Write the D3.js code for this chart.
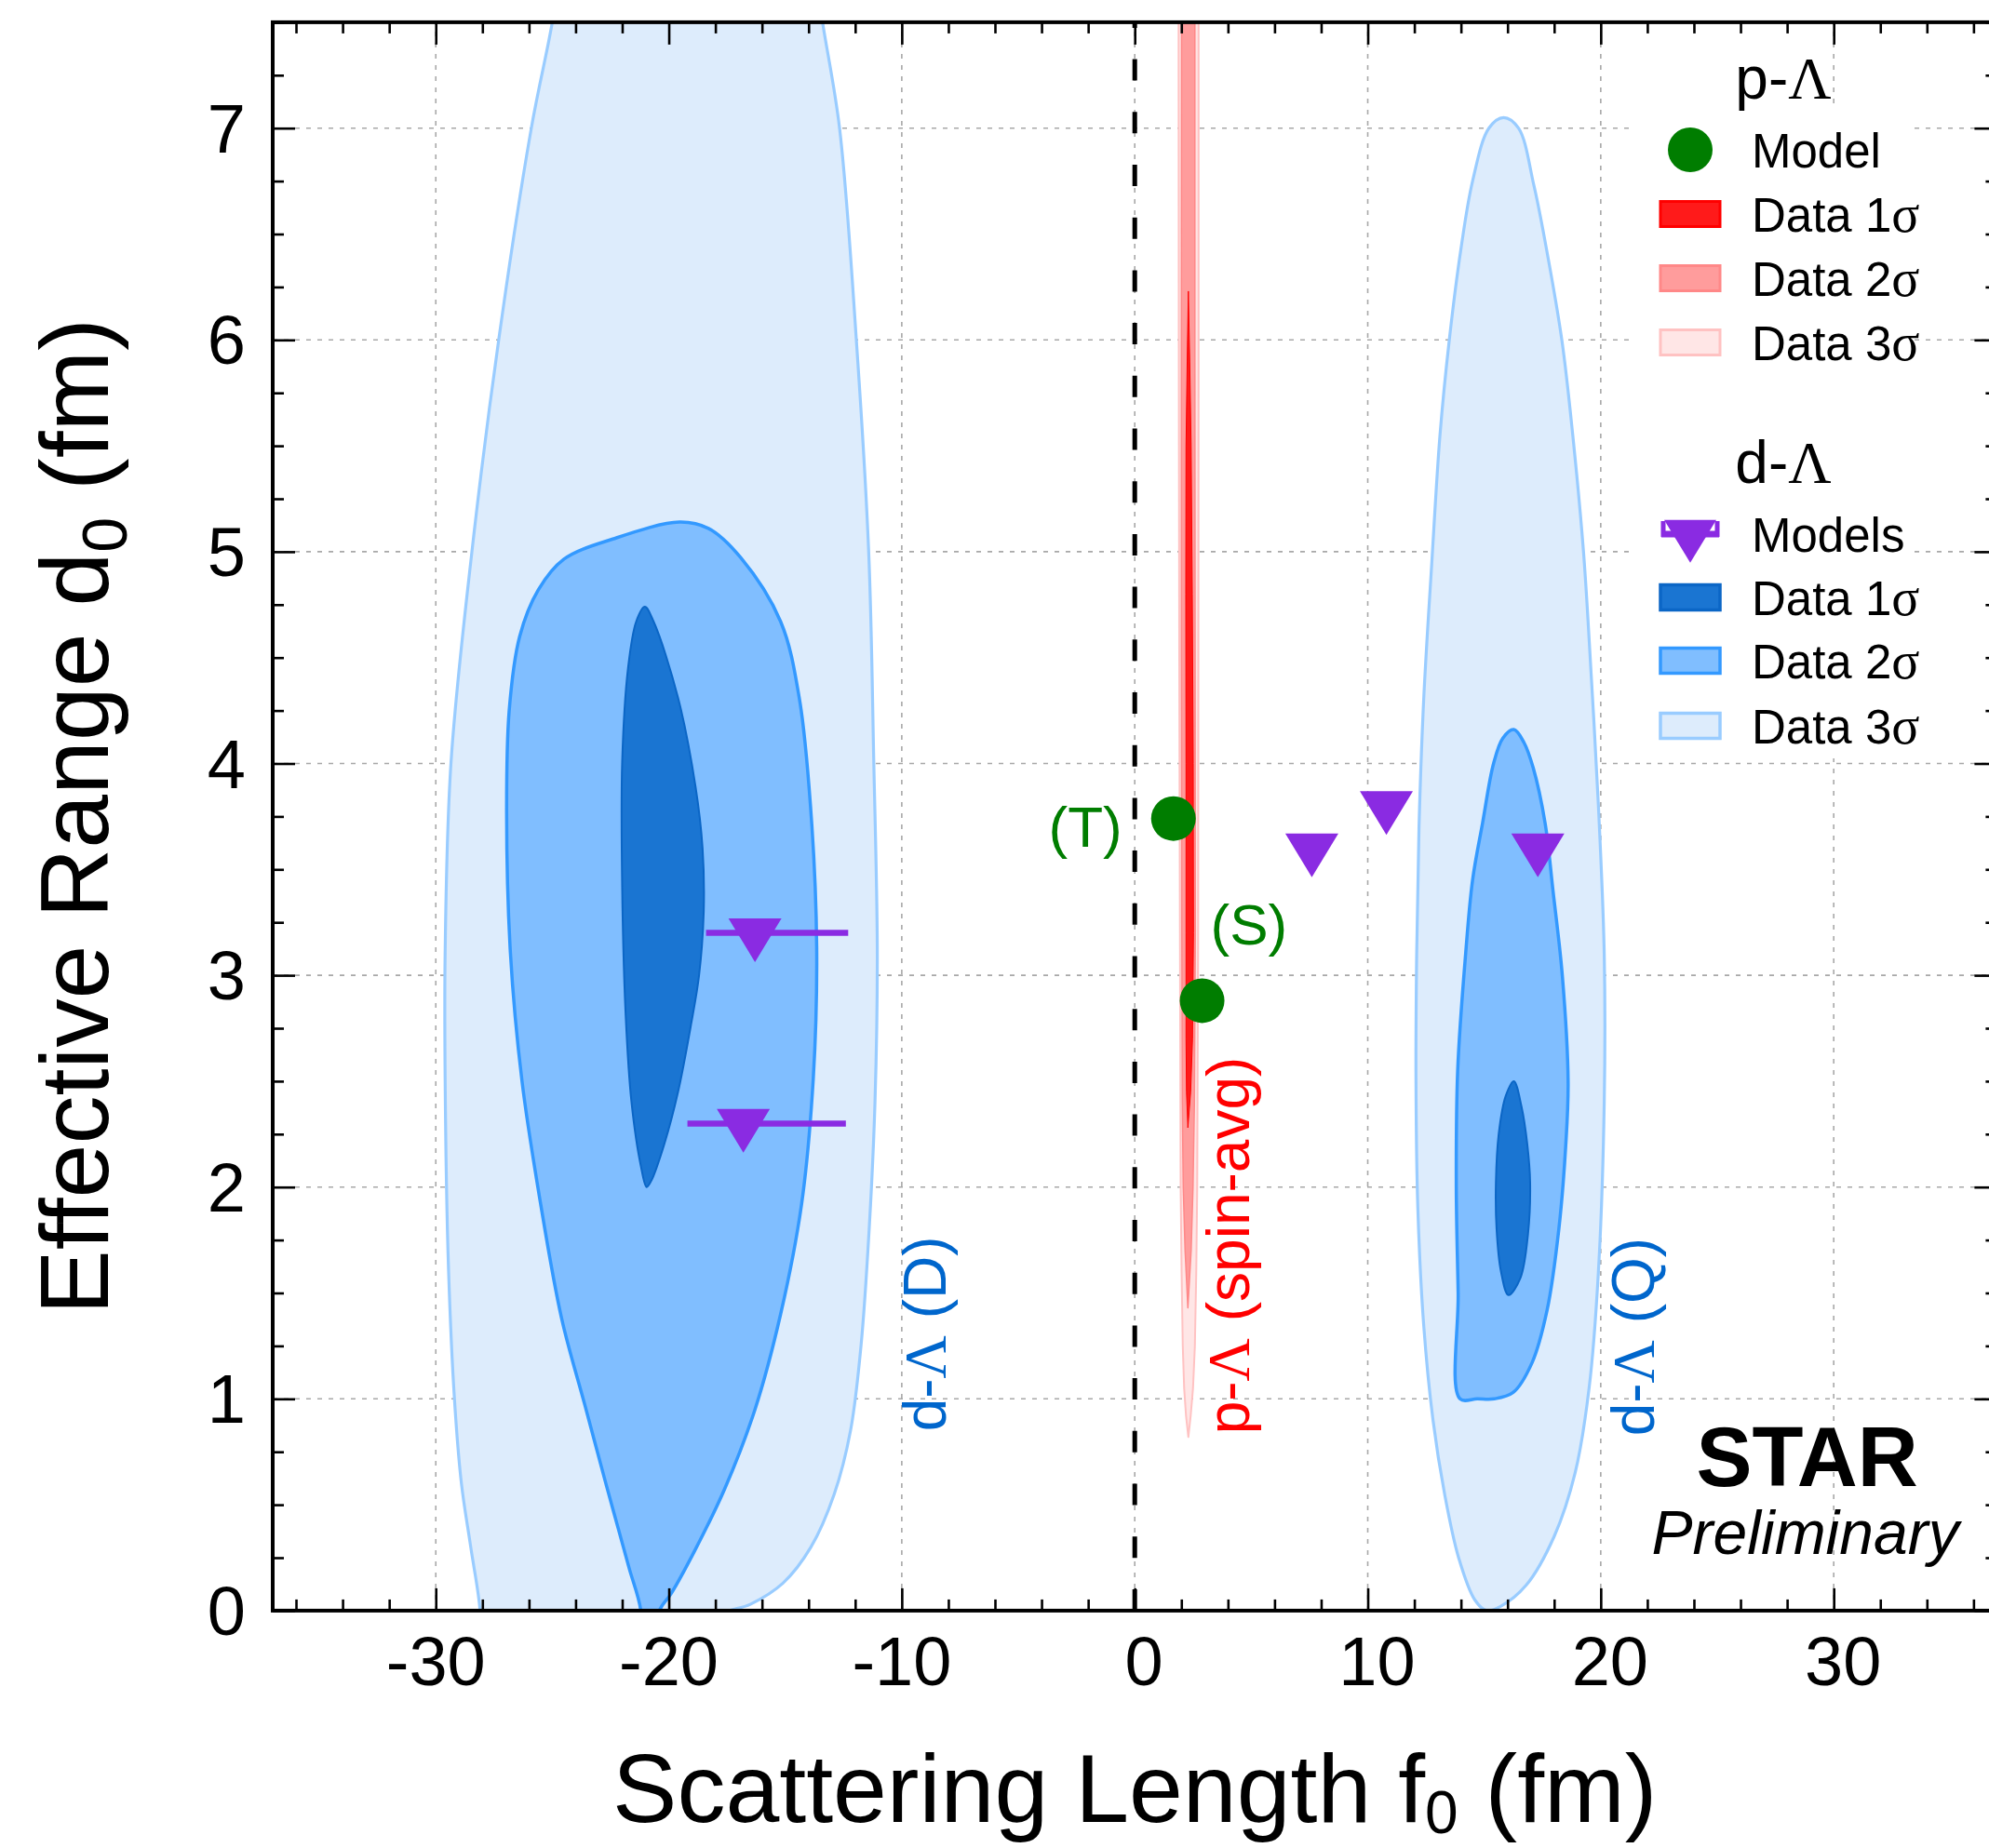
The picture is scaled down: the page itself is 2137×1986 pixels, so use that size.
<!DOCTYPE html>
<html><head><meta charset="utf-8">
<script src="https://cdn.jsdelivr.net/npm/d3@7"></script>
<style>
body{margin:0;background:#fff;}
svg{display:block;}
text{font-family:"Liberation Sans", Arial, Helvetica, sans-serif;}
.serif{font-family:"Liberation Serif","Times New Roman",serif;}
</style>
</head><body>
<svg id="chart" width="2137" height="1986"></svg>
<script>
// ---------------- DATA ----------------
const xTicks = [-30, -20, -10, 0, 10, 20, 30];
const yTicks = [0, 1, 2, 3, 4, 5, 6, 7];
const xDomain = [-37, 37];
const yDomain = [0, 7.5];

// p-Lambda model points (f0, d0)
const pLModelLabels = ["(T)", "(S)"];
const pLModelF0 = [1.66, 2.89];
const pLModelD0 = [3.74, 2.88];

// d-Lambda model points (f0, d0) with optional horizontal ranges
const dLModelF0 = [-16.3, -16.8, 7.6, 10.8, 17.3];
const dLModelD0 = [3.20, 2.30, 3.60, 3.80, 3.60];
const dLModelF0Lo = [-18.4, -19.2, null, null, null];
const dLModelF0Hi = [-12.3, -12.4, null, null, null];

// d-Lambda doublet (D) contours [f0, d0]
const dL_D_3s = [[-28.1,-0.2],[-28.1,0],[-28.5,0.3],[-28.9,0.6],[-29.2,1.0],[-29.45,1.6],[-29.58,2.3],[-29.6,3.1],[-29.35,4.0],[-28.45,5.0],[-27.3,6.0],[-25.9,7.0],[-25.0,7.5],[-24.6,7.8],[-13.8,7.8],[-13.4,7.5],[-12.67,7.0],[-11.95,6.0],[-11.42,5.0],[-11.2,4.0],[-11.05,3.1],[-11.15,2.4],[-11.4,1.8],[-11.75,1.25],[-12.2,0.85],[-12.9,0.55],[-13.9,0.3],[-15.1,0.13],[-16.5,0.03],[-17.8,-0.02],[-19.0,-0.2]];
const dL_D_2s = [[-21.2,-0.2],[-21.2,0],[-21.7,0.2],[-22.2,0.4],[-22.7,0.6],[-23.6,0.97],[-24.6,1.38],[-25.5,1.92],[-26.3,2.5],[-26.8,3.11],[-26.96,3.77],[-26.85,4.25],[-26.4,4.6],[-25.6,4.82],[-24.5,4.965],[-22.4,5.06],[-19.54,5.14],[-18.3,5.11],[-16.9,4.97],[-15.2,4.67],[-14.4,4.31],[-13.86,3.71],[-13.65,3.1],[-13.8,2.51],[-14.3,1.92],[-15.2,1.4],[-16.3,0.95],[-17.6,0.575],[-18.9,0.28],[-19.9,0.08],[-20.4,0],[-20.6,-0.2]];
const dL_D_1s = [[-21.03,4.74],[-20.65,4.67],[-19.6,4.31],[-18.85,3.89],[-18.55,3.6],[-18.5,3.3],[-18.7,3.0],[-19.04,2.77],[-19.6,2.45],[-20.2,2.2],[-20.75,2.03],[-20.95,2.0],[-21.2,2.1],[-21.6,2.4],[-21.85,2.81],[-22.0,3.41],[-22.0,4.01],[-21.75,4.45],[-21.4,4.67]];

// d-Lambda quartet (Q) contours [f0, d0]
const dL_Q_3s = [[15.1,0],[14.6,0.05],[13.9,0.25],[13.3,0.55],[12.8,0.9],[12.4,1.35],[12.15,1.9],[12.07,2.5],[12.1,3.1],[12.2,3.7],[12.4,4.3],[12.75,4.95],[13.1,5.55],[13.5,6.0],[14.0,6.43],[14.5,6.75],[15.2,7.0],[15.83,7.05],[16.47,7.0],[17.13,6.73],[17.67,6.43],[18.33,6.0],[18.8,5.55],[19.26,5.0],[19.6,4.4],[19.9,3.8],[20.15,3.1],[20.15,2.4],[19.9,1.6],[19.5,1.05],[18.9,0.65],[18.0,0.35],[16.8,0.12],[15.7,0.02]];
const dL_Q_2s = [[13.96,1.0],[13.88,1.5],[13.8,2.0],[13.86,2.55],[14.2,3.1],[14.5,3.45],[14.93,3.72],[15.4,4.0],[15.8,4.12],[16.27,4.16],[16.7,4.1],[17.1,3.98],[17.61,3.72],[17.95,3.4],[18.35,3.0],[18.6,2.5],[18.5,2.2],[18.2,1.8],[17.7,1.42],[17.05,1.17],[16.24,1.03],[15.43,1.0],[14.7,1.0]];
const dL_Q_1s = [[16.27,2.5],[16.6,2.38],[16.85,2.2],[16.97,2.02],[16.88,1.78],[16.55,1.57],[16.04,1.49],[15.72,1.6],[15.53,1.8],[15.5,2.02],[15.62,2.25],[15.92,2.43]];

// p-Lambda spin-averaged contours [f0, d0]
const pL_3s = [[1.88,7.8],[2.74,7.8],[2.74,6.0],[2.73,4.5],[2.72,3.2],[2.68,2.0],[2.64,1.6],[2.58,1.25],[2.5,1.05],[2.4,0.92],[2.3,0.82],[2.2,0.92],[2.12,1.05],[2.06,1.25],[2.01,1.6],[1.97,2.0],[1.94,3.2],[1.91,4.5],[1.89,6.0]];
const pL_2s = [[2.01,7.8],[2.58,7.8],[2.58,6.0],[2.59,4.5],[2.6,3.2],[2.56,2.4],[2.5,2.0],[2.42,1.7],[2.28,1.43],[2.16,1.7],[2.08,2.0],[2.04,2.4],[2.02,3.2],[2.0,4.5],[2.0,6.0]];
const pL_1s = [[2.30,6.23],[2.36,5.9],[2.42,5.5],[2.47,4.8],[2.51,4.0],[2.52,3.2],[2.48,2.7],[2.4,2.45],[2.28,2.28],[2.22,2.45],[2.2,2.7],[2.2,3.2],[2.2,4.0],[2.19,4.8],[2.2,5.5],[2.25,5.9]];

// annotation labels (positions in data units)
const annoText = ["d-Λ (D)", "d-Λ (Q)", "p-Λ (spin-avg)"];
const annoF0 = [-8.13, 22.27, 4.89];
const annoD0 = [0.846, 0.824, 0.833];

// legend entries
const legendPLabels = ["Model", "Data 1σ", "Data 2σ", "Data 3σ"];
const legendDLabels = ["Models", "Data 1σ", "Data 2σ", "Data 3σ"];

// ---------------- STYLES ----------------
const C = {
  blue3f:"#ddecfc", blue3s:"#99ccff",
  blue2f:"#80beff", blue2s:"#3399ff",
  blue1f:"#1a75d2", blue1s:"#0b66c6",
  red3f:"#ffe6e6", red3s:"#ffc2c2",
  red2f:"#ff9c9c", red2s:"#ff8888",
  red1f:"#ff1a1a", red1s:"#ff0000",
  green:"#007d00", purple:"#8a2be2", blueText:"#0066cc", redText:"#ff0000"
};

// ---------------- CHART ----------------
const W = 2137, H = 1986;
const x = d3.scaleLinear().domain(xDomain).range([293, 2145.4]);
const y = d3.scaleLinear().domain(yDomain).range([1730.9, 23.9]);
const svg = d3.select("#chart");
svg.append("rect").attr("width", W).attr("height", H).attr("fill", "#fff");

svg.append("defs").append("clipPath").attr("id", "plotclip")
  .append("rect").attr("x", x(xDomain[0])).attr("y", y(yDomain[1]))
  .attr("width", x(xDomain[1]) - x(xDomain[0])).attr("height", y(yDomain[0]) - y(yDomain[1]));

// grid
const grid = svg.append("g").attr("stroke", "#a8a8a8").attr("stroke-width", 1.6).attr("stroke-dasharray", "5,7");
grid.selectAll("line.gx").data(xTicks).join("line").attr("class", "gx")
  .attr("x1", d => x(d)).attr("x2", d => x(d)).attr("y1", y(0)).attr("y2", y(7.5));
grid.selectAll("line.gy").data(yTicks.filter(d => d > 0)).join("line").attr("class", "gy")
  .attr("y1", d => y(d)).attr("y2", d => y(d)).attr("x1", x(-37)).attr("x2", x(37));

// legend background (hides grid)
svg.append("rect").attr("x", 1752).attr("y", 118).attr("width", 303).attr("height", 697).attr("fill", "#fff");

// contours
const plot = svg.append("g").attr("clip-path", "url(#plotclip)");
const smooth = d3.line().x(d => x(d[0])).y(d => y(d[1])).curve(d3.curveCatmullRomClosed.alpha(0.5));
const straight = d3.line().x(d => x(d[0])).y(d => y(d[1])).curve(d3.curveLinearClosed);
const contours = [
  [dL_D_3s, C.blue3f, C.blue3s, 3.2, smooth],
  [dL_Q_3s, C.blue3f, C.blue3s, 3.2, smooth],
  [dL_D_2s, C.blue2f, C.blue2s, 3.5, smooth],
  [dL_Q_2s, C.blue2f, C.blue2s, 3.5, smooth],
  [dL_D_1s, C.blue1f, C.blue1s, 2, smooth],
  [dL_Q_1s, C.blue1f, C.blue1s, 2, smooth],
  [pL_3s, C.red3f, C.red3s, 2, straight],
  [pL_2s, C.red2f, C.red2s, 1.5, straight],
  [pL_1s, C.red1f, C.red1s, 1, straight]
];
plot.selectAll("path.contour").data(contours).join("path").attr("class", "contour")
  .attr("d", d => d[4](d[0])).attr("fill", d => d[1]).attr("stroke", d => d[2]).attr("stroke-width", d => d[3])
  .attr("stroke-linejoin", "round");

// zero line
svg.append("line").attr("x1", x(0)).attr("x2", x(0)).attr("y1", y(0)).attr("y2", y(7.5))
  .attr("stroke", "#000").attr("stroke-width", 5).attr("stroke-dasharray", "23,33.7");

// d-Lambda model error bars and triangles
const tri = (cx, cy, w, h) => `M${cx - w/2},${cy - h/3}L${cx + w/2},${cy - h/3}L${cx},${cy + 2*h/3}Z`;
const dLIdx = d3.range(dLModelF0.length);
svg.append("g").selectAll("line").data(dLIdx.filter(i => dLModelF0Lo[i] !== null)).join("line")
  .attr("x1", i => x(dLModelF0Lo[i])).attr("x2", i => x(dLModelF0Hi[i]))
  .attr("y1", i => y(dLModelD0[i])).attr("y2", i => y(dLModelD0[i]))
  .attr("stroke", C.purple).attr("stroke-width", 6.5);
svg.append("g").selectAll("path").data(dLIdx).join("path")
  .attr("d", i => tri(x(dLModelF0[i]), y(dLModelD0[i]), 57, 47)).attr("fill", C.purple);

// p-Lambda model circles
svg.append("g").selectAll("circle").data(d3.range(pLModelF0.length)).join("circle")
  .attr("cx", i => x(pLModelF0[i])).attr("cy", i => y(pLModelD0[i])).attr("r", 24).attr("fill", C.green);

// model labels
svg.append("text").attr("x", x(-3.7)).attr("y", y(3.607)).attr("font-size", 62).attr("fill", C.green).text(pLModelLabels[0]);
svg.append("text").attr("x", x(3.25)).attr("y", y(3.145)).attr("font-size", 62).attr("fill", C.green).text(pLModelLabels[1]);

// rotated annotations with serif Lambda
const annoColors = [C.blueText, C.blueText, C.redText];
annoText.forEach((t, i) => {
  const g = svg.append("text").attr("font-size", 64).attr("fill", annoColors[i])
    .attr("transform", `translate(${x(annoF0[i])},${y(annoD0[i])}) rotate(-90)`);
  const parts = t.split("Λ");
  g.append("tspan").text(parts[0]);
  g.append("tspan").attr("class", "serif").text("Λ");
  g.append("tspan").text(parts[1]);
});

// STAR Preliminary
svg.append("text").attr("x", x(28.86)).attr("y", y(0.588)).attr("text-anchor", "middle")
  .attr("font-size", 90).attr("font-weight", "bold").text("STAR");
svg.append("text").attr("x", x(28.78)).attr("y", y(0.268)).attr("text-anchor", "middle")
  .attr("font-size", 66).attr("font-style", "italic").text("Preliminary");

// ---------------- LEGEND ----------------
const lg = svg.append("g");
const symX = 1816, txtX = 1882, boxW = 64, boxH = 27;
function header(label, baseY) {
  const t = lg.append("text").attr("x", 1916).attr("y", baseY).attr("text-anchor", "middle").attr("font-size", 64);
  t.append("tspan").text(label + "-");
  t.append("tspan").attr("class", "serif").text("Λ");
}
function entryText(label, cy) {
  const t = lg.append("text").attr("x", txtX).attr("y", cy + 18.5).attr("font-size", 51);
  const parts = label.split("σ");
  t.append("tspan").text(parts[0]);
  if (label.includes("σ")) t.append("tspan").attr("class", "serif").attr("font-size", 56).text("σ");
}
header("p", 106);
const pRows = [161, 230, 299, 368];
lg.append("circle").attr("cx", symX).attr("cy", pRows[0]).attr("r", 24).attr("fill", C.green);
[[C.red1f, C.red1s], [C.red2f, C.red2s], [C.red3f, C.red3s]].forEach((c, i) => {
  lg.append("rect").attr("x", symX - boxW/2).attr("y", pRows[i+1] - boxH/2).attr("width", boxW).attr("height", boxH)
    .attr("fill", c[0]).attr("stroke", c[1]).attr("stroke-width", 3);
});
legendPLabels.forEach((l, i) => entryText(l, pRows[i]));

header("d", 519);
const dRows = [574, 642, 710, 780];
lg.append("line").attr("x1", symX - 31).attr("x2", symX + 31).attr("y1", dRows[0]).attr("y2", dRows[0])
  .attr("stroke", C.purple).attr("stroke-width", 7);
[symX - 29, symX + 29].forEach(ex => lg.append("line").attr("x1", ex).attr("x2", ex)
  .attr("y1", dRows[0] - 14).attr("y2", dRows[0] + 3).attr("stroke", C.purple).attr("stroke-width", 5));
lg.append("path").attr("d", tri(symX, dRows[0], 56, 46)).attr("fill", C.purple);
[[C.blue1f, C.blue1s], [C.blue2f, C.blue2s], [C.blue3f, C.blue3s]].forEach((c, i) => {
  lg.append("rect").attr("x", symX - boxW/2).attr("y", dRows[i+1] - boxH/2).attr("width", boxW).attr("height", boxH)
    .attr("fill", c[0]).attr("stroke", c[1]).attr("stroke-width", 3.5);
});
legendDLabels.forEach((l, i) => entryText(l, dRows[i]));

// ---------------- AXES ----------------
const minorX = d3.range(-36, 37, 2).filter(v => v % 10 !== 0);
const minorY = d3.range(0, 7.51, 0.25).filter(v => Math.abs(v - Math.round(v)) > 1e-6);
function styleAxis(g) { g.select(".domain").remove(); g.selectAll(".tick line").attr("stroke", "#000").attr("stroke-width", 2.6); g.selectAll(".tick text").remove(); }
const axes = svg.append("g");
axes.append("g").attr("transform", `translate(0,${y(0)})`).call(d3.axisBottom(x).tickValues(xTicks).tickSize(-24)).call(styleAxis);
axes.append("g").attr("transform", `translate(0,${y(0)})`).call(d3.axisBottom(x).tickValues(minorX).tickSize(-12)).call(styleAxis);
axes.append("g").attr("transform", `translate(0,${y(7.5)})`).call(d3.axisTop(x).tickValues(xTicks).tickSize(-24)).call(styleAxis);
axes.append("g").attr("transform", `translate(0,${y(7.5)})`).call(d3.axisTop(x).tickValues(minorX).tickSize(-12)).call(styleAxis);
axes.append("g").attr("transform", `translate(${x(-37)},0)`).call(d3.axisLeft(y).tickValues(yTicks.concat([7.5])).tickSize(-24)).call(styleAxis);
axes.append("g").attr("transform", `translate(${x(-37)},0)`).call(d3.axisLeft(y).tickValues(minorY).tickSize(-12)).call(styleAxis);
axes.append("g").attr("transform", `translate(${x(37)},0)`).call(d3.axisRight(y).tickValues(yTicks).tickSize(-24)).call(styleAxis);
axes.append("g").attr("transform", `translate(${x(37)},0)`).call(d3.axisRight(y).tickValues(minorY).tickSize(-12)).call(styleAxis);

// frame
svg.append("rect").attr("x", x(-37)).attr("y", y(7.5)).attr("width", x(37) - x(-37)).attr("height", y(0) - y(7.5))
  .attr("fill", "none").attr("stroke", "#000").attr("stroke-width", 4);

// tick labels
svg.append("g").selectAll("text").data(xTicks).join("text")
  .attr("x", d => x(d) + (d >= 0 ? 10 : 0)).attr("y", 1811).attr("text-anchor", "middle").attr("font-size", 74)
  .text(d => String(d));
svg.append("g").selectAll("text").data(yTicks).join("text")
  .attr("x", 264).attr("y", d => y(d) + 26).attr("text-anchor", "end").attr("font-size", 74).text(d => d);

// axis titles
const xt = svg.append("text").attr("x", x(0)).attr("y", 1958).attr("text-anchor", "middle").attr("font-size", 104);
xt.append("tspan").text("Scattering Length f");
xt.append("tspan").attr("font-size", 64).attr("dy", 12).text("0");
xt.append("tspan").attr("dy", -12).text(" (fm)");

const yt = svg.append("text").attr("transform", `translate(116,${(y(0) + y(7.5)) / 2}) rotate(-90)`)
  .attr("text-anchor", "middle").attr("font-size", 104);
yt.append("tspan").text("Effective Range d");
yt.append("tspan").attr("font-size", 68).attr("dy", 20).text("0");
yt.append("tspan").attr("dy", -20).text(" (fm)");
</script>
</body></html>
